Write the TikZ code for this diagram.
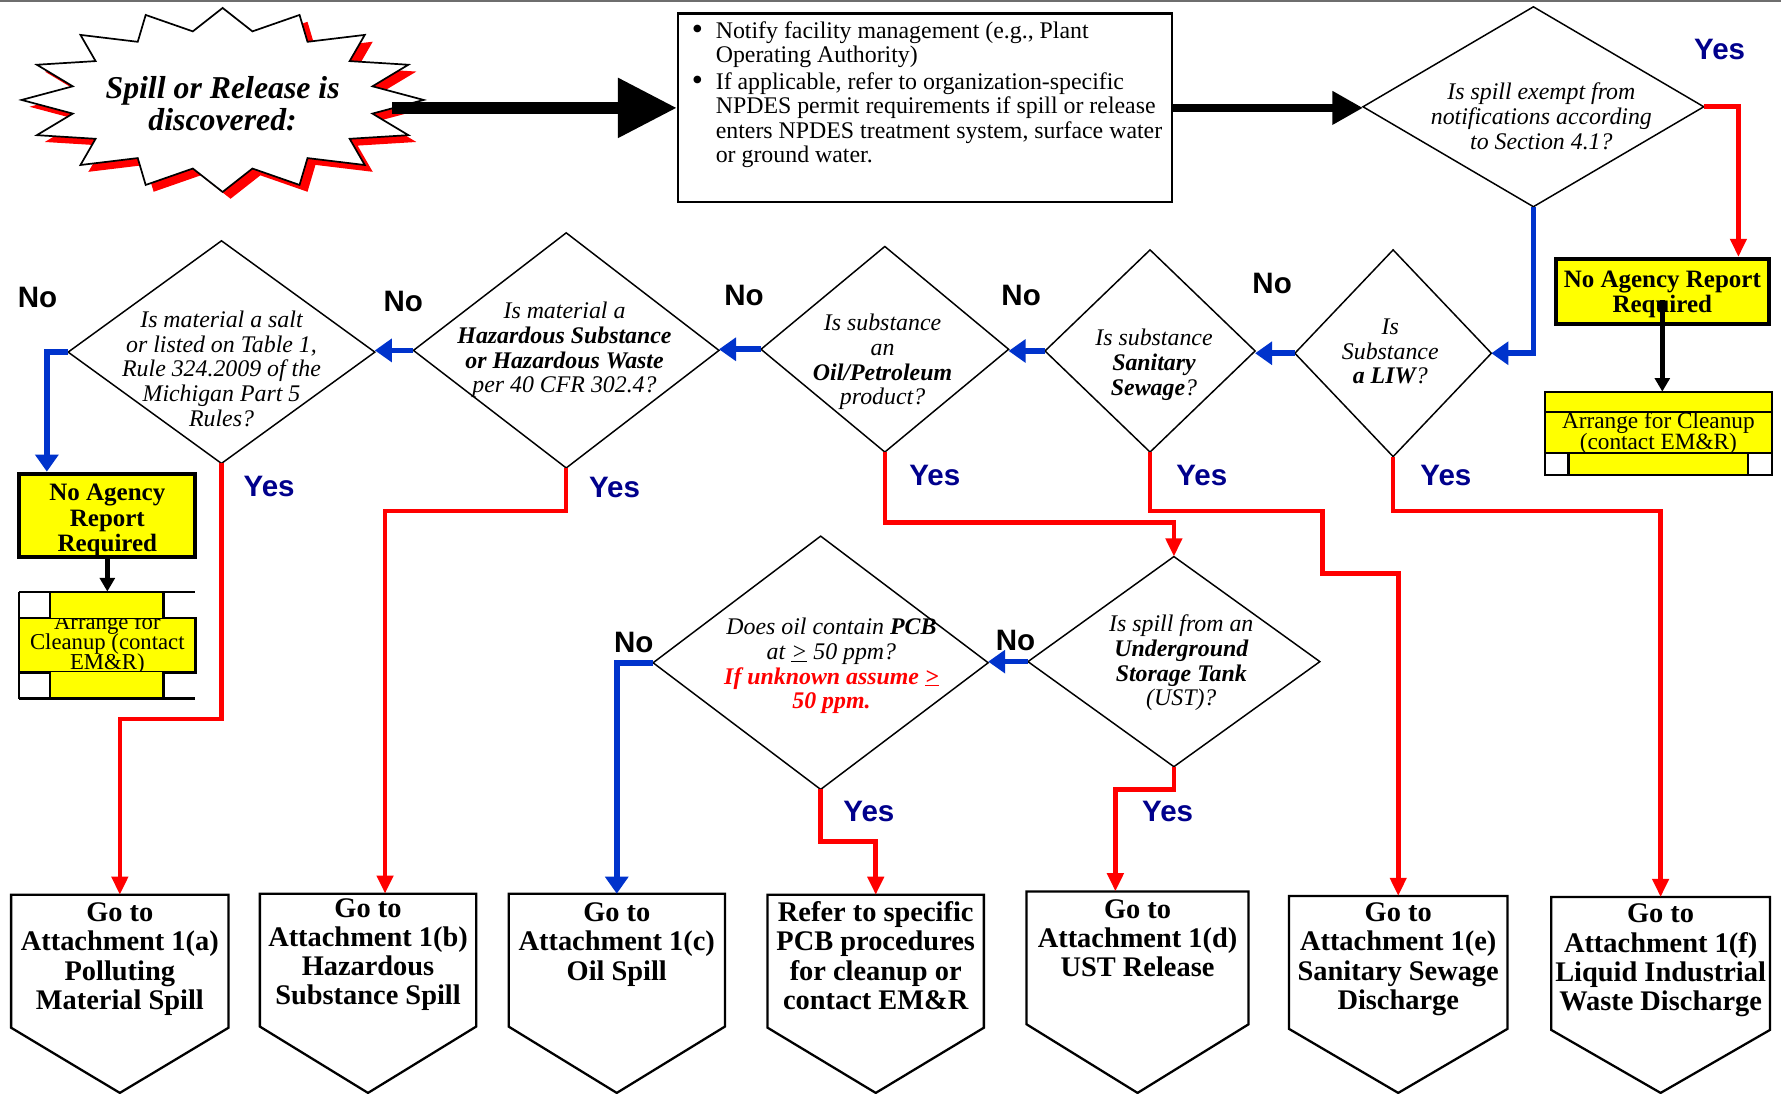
\documentclass[tikz,border=0pt]{standalone}
\usepackage{fontspec}
\setmainfont{Liberation Serif}
\newfontfamily\labelfont{Liberation Sans}
\usetikzlibrary{shapes.geometric,arrows.meta,calc}

\definecolor{spillred}{RGB}{255,0,0}
\definecolor{flowblue}{RGB}{0,51,204}
\definecolor{yesblue}{RGB}{0,0,140}
\definecolor{noteyellow}{RGB}{255,255,0}
\definecolor{rulegray}{RGB}{110,110,110}

\newcommand\qsize{\fontsize{21}{21.7}\selectfont}
\newcommand\tightlines{\lineskiplimit=-50pt\relax}
\newcommand\bigbullet{\makebox[21pt][l]{\raisebox{-1.5pt}{\fontsize{28}{28}\selectfont\textbullet}}}

% multi-line nodes below are placed by the baseline of their last line
\tikzset{
  dia/.style={diamond, draw, line width=1.3pt, inner sep=0pt, outer sep=0pt},
  qtext/.style={align=center, inner sep=0pt, anchor=base, font=\qsize\itshape},
  yeslbl/.style={inner sep=0pt, text=yesblue, font=\labelfont\bfseries\fontsize{26}{26}\selectfont},
  nolbl/.style={inner sep=0pt, text=black, font=\labelfont\bfseries\fontsize{26}{26}\selectfont},
  yesflow/.style={draw=spillred, line width=4pt, -{Triangle[length=16pt,width=14pt]}},
  noflow/.style={draw=flowblue, line width=5pt, -{Triangle[length=15pt,width=20pt]}},
  goflow/.style={draw=black, line width=4pt, -{Triangle[length=12pt,width=13pt]}},
  gobox/.style={minimum width=191pt, minimum height=174pt, inner sep=0pt},
  gotext/.style={align=center, inner sep=0pt, anchor=base, font=\bfseries\fontsize{25}{25.7}\selectfont},
  notice/.style={draw, line width=3.5pt, fill=noteyellow, inner sep=0pt},
  noticetext/.style={align=center, inner sep=0pt, anchor=base, font=\bfseries\fontsize{22}{22.3}\selectfont},
  cleantext/.style={align=center, inner sep=0pt, anchor=base, font=\fontsize{20.5}{19}\selectfont\tightlines},
}

\begin{document}
\begin{tikzpicture}[x=1pt,y=-1pt]
\useasboundingbox (0,0) rectangle (1568,963);
\fill[white] (0,0) rectangle (1568,963);
\draw[rulegray, line width=1.5pt] (0,1) -- (1568,1);

% ---- starburst: red drop shadow, then white star ----
\begin{scope}[shift={(203,94)}]
  \fill[spillred] (177,0) \foreach \k in {1,...,31}{
    -- ({177*(1-0.24*mod(\k,2))*cos(\k*11.25)},{81*(1-0.24*mod(\k,2))*sin(\k*11.25)}) } -- cycle;
\end{scope}
\begin{scope}[shift={(196,88)}]
  \filldraw[fill=white, draw=black, line width=1.5pt, line join=miter] (177,0) \foreach \k in {1,...,31}{
    -- ({177*(1-0.24*mod(\k,2))*cos(\k*11.25)},{81*(1-0.24*mod(\k,2))*sin(\k*11.25)}) } -- cycle;
\end{scope}
\node[minimum width=354pt, minimum height=162pt, inner sep=0pt, align=center,
      font=\bfseries\itshape\fontsize{28}{28}\selectfont] (spill) at (196,91.5) {Spill or Release is\\discovered:};

% ---- notification box ----
\node[draw, line width=2pt, minimum width=435pt, minimum height=166pt, inner sep=0pt] (notify) at (814.5,95) {};
\node[anchor=base west, inner sep=0pt, align=left, font=\fontsize{21}{21.7}\selectfont] (notifytext) at (609,143.5) {%
\bigbullet Notify facility management (e.g., Plant\\
\hspace*{21pt}Operating Authority)\\[1.5pt]
\bigbullet If applicable, refer to organization-specific\\
\hspace*{21pt}NPDES permit requirements if spill or release\\
\hspace*{21pt}enters NPDES treatment system, surface water\\
\hspace*{21pt}or ground water.};

\draw[line width=11pt, -{Triangle[length=52pt,width=50pt]}, shorten <=-28pt] (spill.east |- notify.west) -- (notify.west);

% ---- decision diamonds ----
\node[dia, minimum width=300pt, minimum height=176pt] (exempt) at (1350,94) {};
\node[qtext] (exempttext) at (1357,131.2) {Is spill exempt from\\notifications according\\to Section 4.1?};
\draw[line width=7pt, -{Triangle[length=27pt,width=28pt]}] (notify.east) -- (notify.east -| exempt.west);

\node[dia, minimum width=173pt, minimum height=182pt] (liw) at (1226.5,311) {};
\node[qtext] (liwtext) at (1224,338) {Is\\Substance\\\textbf{a LIW}?};

\node[dia, minimum width=185pt, minimum height=178pt] (sanitary) at (1012.5,309) {};
\node[qtext] (sanitarytext) at (1016,348) {Is substance\\\textbf{Sanitary}\\\textbf{Sewage}?};

\node[dia, minimum width=218pt, minimum height=181pt] (oil) at (779,307.5) {};
\node[qtext] (oiltext) at (777,356.3) {Is substance\\an\\\textbf{Oil/Petroleum}\\product?};

\node[dia, minimum width=269pt, minimum height=207pt] (haz) at (498.5,308.5) {};
\node[qtext] (haztext) at (497,345.8) {Is material a\\\textbf{Hazardous Substance}\\\textbf{or Hazardous Waste}\\per 40 CFR 302.4?};

\node[dia, minimum width=270pt, minimum height=196pt] (salt) at (195,310) {};
\node[qtext] (salttext) at (195,375.3) {Is material a salt\\or listed on Table 1,\\Rule 324.2009 of the\\Michigan Part 5\\Rules?};

\node[dia, minimum width=257pt, minimum height=185pt] (ust) at (1033.5,582.5) {};
\node[qtext] (usttext) at (1040,621.3) {Is spill from an\\\textbf{Underground}\\\textbf{Storage Tank}\\(UST)?};

\node[dia, minimum width=295pt, minimum height=223pt] (pcb) at (722.5,583.5) {};
\node[qtext] (pcbtext) at (732,624) {Does oil contain \textbf{PCB}\\at \underline{>} 50 ppm?\\
  \textcolor{spillred}{\textbf{If unknown assume \underline{>}}}\\\textcolor{spillred}{\textbf{50 ppm.}}};

% ---- no-report boxes and cleanup notes ----
\node[notice, minimum width=187pt, minimum height=57pt] (noreportR) at (1463.5,256.5) {};
\node[noticetext] (noreportRtext) at (1463.5,275.3) {No Agency Report\\Required};

\node[minimum width=200pt, minimum height=73pt, inner sep=0pt] (cleanupR) at (1460,381.5) {};
\draw[line width=2pt, fill=noteyellow] (1360,345) rectangle (1560,363);
\draw[line width=2pt, fill=noteyellow] (1360,363) rectangle (1560,399);
\draw[line width=2pt, fill=white] (1360,399) rectangle (1560,418);
\draw[line width=2pt, fill=noteyellow] (1381,399) rectangle (1539,418);
\node[cleantext] (cleanupRtext) at (1460,396) {Arrange for Cleanup\\(contact EM\&R)};

\node[notice, minimum width=155pt, minimum height=73pt] (noreportL) at (94.5,453.5) {};
\node[noticetext] (noreportLtext) at (94.5,485.6) {No Agency\\Report\\Required};

\node[minimum width=155pt, minimum height=94pt, inner sep=0pt] (cleanupL) at (94.5,568) {};
\fill[noteyellow] (17,544) rectangle (172,592);
\node[cleantext, font=\fontsize{20}{17.5}\selectfont\tightlines] (cleanupLtext) at (94.5,589) {Arrange for\\Cleanup (contact\\EM\&R)};
\draw[line width=2pt] (17,544) rectangle (172,592);
\foreach \ya/\yb in {521/544, 592/615} {
  \fill[noteyellow] (44,\ya) rectangle (144,\yb);
  \draw[line width=2pt] (17,\ya) -- (17,\yb) (44,\ya) -- (44,\yb) (144,\ya) -- (144,\yb);
}
\draw[line width=2pt] (17,521) -- (172,521) (17,615) -- (172,615);

% ---- outcome boxes ----
\node[gobox] (boxA) at (105.5,875) {};
\node[gobox, minimum width=190pt, minimum height=175pt] (boxB) at (324,874.5) {};
\node[gobox, minimum width=190pt, minimum height=175pt] (boxC) at (543,874.5) {};
\node[gobox, minimum width=190pt] (boxP) at (771,875) {};
\node[gobox, minimum width=195pt, minimum height=177pt] (boxD) at (1001.5,873.5) {};
\node[gobox, minimum width=192pt, minimum height=173pt] (boxE) at (1231,875.5) {};
\node[gobox, minimum width=192pt, minimum height=172pt] (boxF) at (1462,876) {};
\foreach \b in {boxA,boxB,boxC,boxP,boxD,boxE,boxF}
  \draw[line width=2pt, line join=miter] (\b.north west) -- (\b.north east) -- ([yshift=-117pt]\b.north east)
    -- (\b.south) -- ([yshift=-117pt]\b.north west) -- cycle;

\node[gotext] (boxAtext) at (105.5,888.6) {Go to\\Attachment 1(a)\\Polluting\\Material Spill};
\node[gotext] (boxBtext) at (324,884.6) {Go to\\Attachment 1(b)\\Hazardous\\Substance Spill};
\node[gotext] (boxCtext) at (543,862.9) {Go to\\Attachment 1(c)\\Oil Spill};
\node[gotext] (boxPtext) at (771,888.6) {Refer to specific\\PCB procedures\\for cleanup or\\contact EM\&R};
\node[gotext] (boxDtext) at (1001.5,859.9) {Go to\\Attachment 1(d)\\UST Release};
\node[gotext] (boxEtext) at (1231,888.6) {Go to\\Attachment 1(e)\\Sanitary Sewage\\Discharge};
\node[gotext] (boxFtext) at (1462,889.6) {Go to\\Attachment 1(f)\\Liquid Industrial\\Waste Discharge};

% ---- "No" branches ----
\draw[noflow] (exempt.south) |- (liw.east);
\draw[noflow] (liw.west) -- (liw.west -| sanitary.east);
\draw[noflow] (sanitary.west) -- (sanitary.west -| oil.east);
\draw[noflow] (oil.west) -- (oil.west -| haz.east);
\draw[noflow] (haz.west) -- (haz.west -| salt.east);
\draw[noflow] (salt.west) -| ($(noreportL.north west)+(26,0)$);
\draw[noflow] (ust.west) -- (ust.west -| pcb.east);
\draw[noflow] (pcb.west) -| (boxC.north);

% ---- "Yes" branches ----
\draw[yesflow] (exempt.east) -| ($(noreportR.north)+(67,0)$);
\draw[yesflow] (salt.south) -- ++(0,225) -| (boxA.north);
\draw[yesflow] (haz.south) -- ++(0,38) -| ([xshift=15pt]boxB.north);
\draw[yesflow] (oil.south) -- ++(0,62) -| (ust.north);
\draw[yesflow] (sanitary.south) -- ++(0,52) -- ++(152,0) -- ++(0,55) -| (boxE.north);
\draw[yesflow] (liw.south) -- ++(0,48) -| (boxF.north);
\draw[yesflow] (pcb.south) -- ++(0,46) -| (boxP.north);
\draw[yesflow] (ust.south) -- ++(0,20) -| ([xshift=-19.5pt]boxD.north);

% ---- report boxes to cleanup ----
\draw[goflow] ([yshift=-8pt]noreportR.center) -- (noreportR.center |- cleanupR.north);
\draw[goflow] (noreportL.south) -- (cleanupL.north);

% ---- branch labels ----
\node[yeslbl] (yes0) at (1514,44) {Yes};
\node[yeslbl] (yes1) at (237,428) {Yes};
\node[yeslbl] (yes2) at (541,429) {Yes};
\node[yeslbl] (yes3) at (823,419) {Yes};
\node[yeslbl] (yes4) at (1058,419) {Yes};
\node[yeslbl] (yes5) at (1273,419) {Yes};
\node[yeslbl] (yes6) at (765,714) {Yes};
\node[yeslbl] (yes7) at (1028,714) {Yes};

\node[nolbl] (no1) at (33,262) {No};
\node[nolbl] (no2) at (355,265) {No};
\node[nolbl] (no3) at (655,260) {No};
\node[nolbl] (no4) at (899,260) {No};
\node[nolbl] (no5) at (1120,250) {No};
\node[nolbl] (no6) at (558,566) {No};
\node[nolbl] (no7) at (894,564) {No};
\end{tikzpicture}
\end{document}
